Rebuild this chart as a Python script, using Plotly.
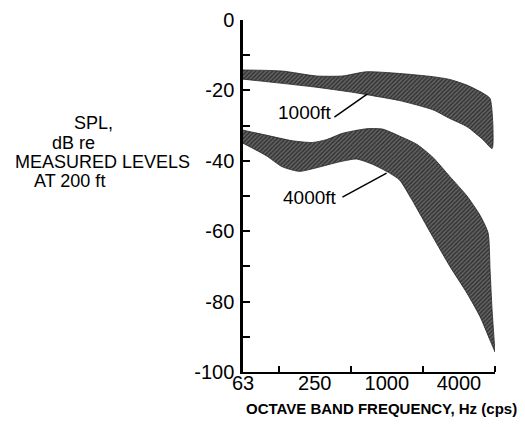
import math
import plotly.graph_objects as go

# ---- data ----
f1000_up = [63, 134, 258, 426, 677, 1281, 2422, 3363, 4668, 6357, 7277]
db1000_up = [-14.2, -14.5, -15.9, -15.9, -14.7, -15.2, -16.1, -16.9, -18.5, -20.8, -22.3]
f1000_lo = [63, 134, 258, 488, 760, 1281, 2422, 3363, 4668, 6357, 7566]
db1000_lo = [-16.8, -18.0, -19.1, -20.4, -21.5, -22.9, -25.5, -28.0, -30.3, -34.0, -36.5]

f4000_up = [63, 98, 162, 239, 313, 426, 677, 922, 1281, 1778, 2422, 3363, 4668, 6004, 7005, 7277, 7566, 8000]
db4000_up = [-31.3, -32.7, -34.3, -34.8, -34.0, -32.2, -30.9, -31.0, -33.0, -35.3, -39.0, -44.5, -50.0, -55.5, -60.5, -71.0, -82.4, -94.3]
f4000_lo = [63, 98, 134, 186, 258, 402, 558, 760, 1056, 1281, 1615, 2422, 3363, 4668, 6004, 7277, 8000]
db4000_lo = [-35.0, -38.5, -41.7, -43.0, -42.0, -40.3, -39.5, -41.0, -43.5, -45.5, -51.0, -61.6, -70.0, -77.6, -84.3, -91.0, -94.3]

lead1000_f = [365, 690]
lead1000_db = [-27.6, -21.0]
lead4000_f = [426, 996]
lead4000_db = [-50.3, -43.5]

x_tickvals = [63, 250, 1000, 4000]
x_ticktext = ["63", "250", "1000", "4000"]
x_minor = [125, 500, 2000, 8000]
y_tickvals = [0, -20, -40, -60, -80, -100]
y_ticktext = ["0", "-20", "-40", "-60", "-80", "-100"]
y_minor = [-10, -30, -50, -70, -90]

ylabel_lines = ["SPL,", "dB re", "MEASURED LEVELS", "AT 200 ft"]
xlabel = "OCTAVE BAND FREQUENCY, Hz (cps)"
band_labels = ["1000ft", "4000ft"]

FONT = "Liberation Sans, Arial, sans-serif"

fig = go.Figure()

pattern = dict(shape="/", fgcolor="black", bgcolor="#666666", size=3, solidity=0.5)

for fu, du, fl, dl in [(f1000_up, db1000_up, f1000_lo, db1000_lo),
                       (f4000_up, db4000_up, f4000_lo, db4000_lo)]:
    fig.add_trace(go.Scatter(
        x=fu + fl[::-1], y=du + dl[::-1],
        mode="lines", fill="toself", fillcolor="#333333",
        fillpattern=pattern,
        line=dict(color="#222222", width=0.8, shape="spline", smoothing=0.6),
        hoverinfo="skip", showlegend=False))

for lf, ld in [(lead1000_f, lead1000_db), (lead4000_f, lead4000_db)]:
    fig.add_trace(go.Scatter(x=lf, y=ld, mode="lines",
                             line=dict(color="black", width=1.5),
                             hoverinfo="skip", showlegend=False))

# plot area in screenshot pixels (page body has an 8px margin)
OFF = 8
L, R, T, B = 243, 495, 20, 372
W, H = 525 - OFF, 427 - OFF
def px(x):
    return (x - L) / (R - L)
def py(y):
    return (B - y) / (B - T)

ann = []
ylab_pos = [(72, 123), (50, 143), (13, 162), (32, 181)]
for txt, (x, y) in zip(ylabel_lines, ylab_pos):
    ann.append(dict(text=txt, x=px(x), y=py(y), xref="paper", yref="paper",
                    xanchor="left", yanchor="middle", showarrow=False,
                    font=dict(family=FONT, size=18, color="black")))
ann.append(dict(text="<b>" + xlabel + "</b>", x=px(381.5), y=py(408), xref="paper", yref="paper",
                xanchor="center", yanchor="middle", showarrow=False,
                font=dict(family=FONT, size=15, color="black")))
for txt, (x, y) in zip(band_labels, [(305, 112), (310, 197)]):
    ann.append(dict(text=txt, x=px(x), y=py(y), xref="paper", yref="paper",
                    xanchor="center", yanchor="middle", showarrow=False,
                    font=dict(family=FONT, size=19, color="black")))

fig.update_layout(
    width=W, height=H,
    margin=dict(l=L - OFF, r=W - (R - OFF), t=T - OFF, b=H - (B - OFF), autoexpand=False),
    paper_bgcolor="white", plot_bgcolor="white",
    annotations=ann,
    xaxis=dict(type="log", range=[math.log10(63), math.log10(8000)],
               showgrid=False, zeroline=False,
               showline=True, linecolor="black", linewidth=2,
               tickvals=x_tickvals, ticktext=x_ticktext, ticks="",
               ticklabelstandoff=-8,
               tickfont=dict(family=FONT, size=20, color="black"),
               minor=dict(tickvals=x_minor, ticks="inside", ticklen=6,
                          tickwidth=1.5, tickcolor="black", showgrid=False)),
    yaxis=dict(range=[-100, 0], showgrid=False, zeroline=False,
               showline=True, linecolor="black", linewidth=2.5,
               tickvals=y_tickvals, ticktext=y_ticktext,
               ticks="inside", ticklen=7, tickwidth=2,
               tickcolor="black", ticklabelstandoff=2,
               tickfont=dict(family=FONT, size=20, color="black"),
               minor=dict(tickvals=y_minor, ticks="inside", ticklen=7,
                          tickwidth=2, tickcolor="black", showgrid=False)),
)

fig.write_html("out.html")
